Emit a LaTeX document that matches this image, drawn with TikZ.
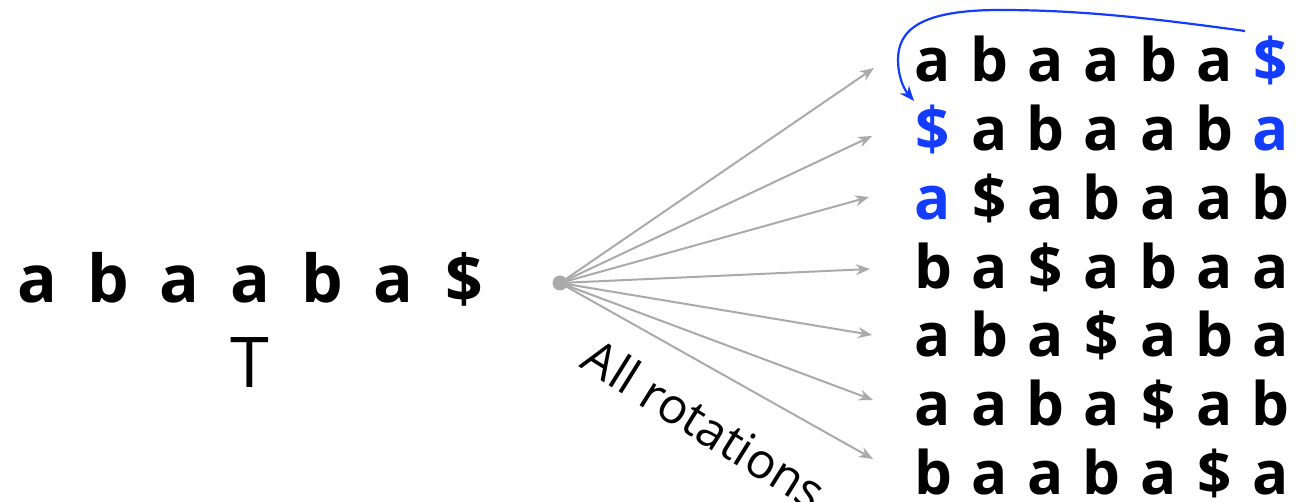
\documentclass[tikz,border=0pt]{standalone}
\usepackage{fontspec}
\setmainfont{Open Sans}
\usetikzlibrary{arrows.meta}
\definecolor{rotblue}{RGB}{20,60,255}
\definecolor{arrgray}{RGB}{170,170,170}
\tikzset{
  bigch/.style={anchor=base, inner sep=0pt, font=\bfseries\fontsize{66}{66}\selectfont},
  gridch/.style={anchor=base, inner sep=0pt, font=\bfseries\fontsize{60}{60}\selectfont},
  rotarrow/.style={draw=arrgray, line width=2pt, -{Stealth[length=14pt,width=11pt]}},
  bluearrow/.style={draw=rotblue, line width=2.2pt, -{Stealth[length=15pt,width=12pt]}},
}
\newcommand{\gridrow}[3]{%
  \foreach \ch [count=\j] in {#3} {
    \pgfmathsetmacro{\xx}{933+56.3*(\j-1)}
    \node[gridch] (g#1-\j) at (\xx,#2) {\ch};
  }%
}
\begin{document}
\begin{tikzpicture}[x=1pt,y=-1pt]
\useasboundingbox (0,0) rectangle (1299,502);
% left string
\foreach \ch [count=\i] in {a,b,a,a,b,a,\$} {
  \pgfmathsetmacro{\xx}{37+71.3*(\i-1)}
  \node[bigch] (t\i) at (\xx,303) {\ch};
}
\node[anchor=base, inner sep=0pt, font=\fontsize{70}{70}\selectfont] (T) at (250,388) {T};
% grid
\gridrow{1}{82}{a,b,a,a,b,a,\textcolor{rotblue}{\$}}
\gridrow{2}{151}{\textcolor{rotblue}{\$},a,b,a,a,b,\textcolor{rotblue}{a}}
\gridrow{3}{220}{\textcolor{rotblue}{a},\$,a,b,a,a,b}
\gridrow{4}{289}{b,a,\$,a,b,a,a}
\gridrow{5}{357}{a,b,a,\$,a,b,a}
\gridrow{6}{426}{a,a,b,a,\$,a,b}
\gridrow{7}{494}{b,a,a,b,a,\$,a}
% source dot
\node[circle, fill=arrgray, inner sep=0pt, minimum size=15pt] (src) at (560,283) {};
\coordinate (e1) at (874,68);
\coordinate (e2) at (872,136);
\coordinate (e3) at (869,197);
\coordinate (e4) at (870,269);
\coordinate (e5) at (872,335);
\coordinate (e6) at (873,400);
\coordinate (e7) at (873,459);
\foreach \k in {1,...,7} {
  \draw[rotarrow] (src.center) -- (e\k);
}
\node[rotate=-32, inner sep=0pt, font=\fontsize{49}{49}\selectfont] (lbl) at (705,424) {All rotations};
% blue arrow
\coordinate (bs) at (1245,31);
\coordinate (be) at (914,101);
\draw[bluearrow] (bs) .. controls (1150,18) and (1080,10) .. (1000,10)
  .. controls (920,10) and (898,30) .. (898,60)
  .. controls (898,75) and (903,88) .. (be);
\end{tikzpicture}
\end{document}
